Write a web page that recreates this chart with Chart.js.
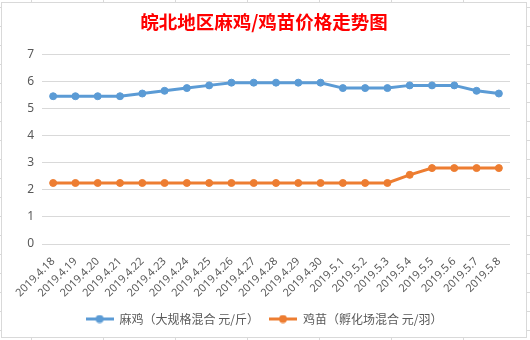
<!DOCTYPE html>
<html>
<head>
<meta charset="utf-8">
<script src="https://cdn.jsdelivr.net/npm/chart.js@4"></script>
<style>
  body {
    margin: 0;
    width: 530px;
    height: 340px;
    overflow: hidden;
    background-color: #fff;
    background-image:
      repeating-linear-gradient(to right, transparent 0 31px, #d9d9d9 31px 32px, transparent 32px 72px),
      repeating-linear-gradient(to bottom, transparent 0 7px, #d9d9d9 7px 8px, transparent 8px 19px);
  }
  #box {
    position: absolute;
    left: 1px;
    top: 2px;
    width: 524px;
    height: 334px;
    border: 1px solid #d9d9d9;
    background: #fff;
  }
</style>
</head>
<body>
<div id="box"><canvas id="priceChart" width="524" height="334"></canvas></div>
<script>
let labels = [
  "2019.4.18", "2019.4.19", "2019.4.20", "2019.4.21", "2019.4.22", "2019.4.23", "2019.4.24",
  "2019.4.25", "2019.4.26", "2019.4.27", "2019.4.28", "2019.4.29", "2019.4.30", "2019.5.1",
  "2019.5.2", "2019.5.3", "2019.5.4", "2019.5.5", "2019.5.6", "2019.5.7", "2019.5.8",
];
let maji = [5.45, 5.45, 5.45, 5.45, 5.55, 5.65, 5.75, 5.85, 5.95, 5.95, 5.95, 5.95, 5.95, 5.75, 5.75, 5.75, 5.85, 5.85, 5.85, 5.65, 5.55];
let jimiao = [2.25, 2.25, 2.25, 2.25, 2.25, 2.25, 2.25, 2.25, 2.25, 2.25, 2.25, 2.25, 2.25, 2.25, 2.25, 2.25, 2.55, 2.8, 2.8, 2.8, 2.8];
let seriesNames = ["麻鸡（大规格混合 元/斤）", "鸡苗（孵化场混合 元/羽）"];
let colors = ["#5b9bd5", "#ed7d31"];

// little line+dot icon for the legend, like excel draws it
let legendIcon = (color) => {
  let c = document.createElement("canvas");
  c.width = 28;
  c.height = 9;
  let g = c.getContext("2d");
  g.strokeStyle = color;
  g.lineWidth = 3;
  g.beginPath();
  g.moveTo(0, 4.5);
  g.lineTo(28, 4.5);
  g.stroke();
  g.fillStyle = color;
  g.beginPath();
  g.arc(14, 4.5, 4, 0, Math.PI * 2);
  g.fill();
  return c;
};
let icons = colors.map(legendIcon);

let makeSet = (name, data, color) => ({
  label: name,
  data: data,
  borderColor: color,
  backgroundColor: color,
  borderWidth: 3,
  pointRadius: 3.5,
  pointBorderWidth: 1,
  pointBackgroundColor: color,
  pointBorderColor: color,
  tension: 0,
});

let ctx = document.getElementById("priceChart").getContext("2d");
new Chart(ctx, {
  type: "line",
  data: {
    labels: labels,
    datasets: [
      makeSet(seriesNames[0], maji, colors[0]),
      makeSet(seriesNames[1], jimiao, colors[1]),
    ],
  },
  options: {
    responsive: false,
    animation: false,
    devicePixelRatio: 1,
    layout: { padding: { top: 0, left: 0, right: 0, bottom: 2 } },
    font: { family: "'Noto Sans', 'Noto Sans CJK SC', sans-serif" },
    plugins: {
      title: {
        display: true,
        text: "皖北地区麻鸡/鸡苗价格走势图",
        color: "#ff0000",
        font: { family: "'Noto Sans CJK SC', sans-serif", size: 18.5, weight: "bold" },
        padding: { top: 8, bottom: 21 },
      },
      legend: {
        position: "bottom",
        labels: {
          color: "#595959",
          font: { family: "'Noto Sans CJK SC', sans-serif", size: 12 },
          usePointStyle: true,
          pointStyleWidth: 28,
          padding: 10,
          generateLabels: (chart) => {
            let items = Chart.defaults.plugins.legend.labels.generateLabels(chart);
            items.forEach((item, i) => {
              item.pointStyle = icons[i];
            });
            return items;
          },
        },
      },
      tooltip: { enabled: false },
    },
    scales: {
      x: {
        offset: true,
        grid: { display: false },
        border: { display: false },
        ticks: {
          color: "#595959",
          font: { size: 11 },
          minRotation: 45,
          maxRotation: 45,
          autoSkip: false,
          padding: 3,
        },
        afterFit: (scale) => {
          scale.height = 59;
        },
      },
      y: {
        min: 0,
        max: 7,
        grid: { color: "#d9d9d9", drawTicks: false },
        border: { display: false },
        ticks: {
          stepSize: 1,
          color: "#595959",
          font: { size: 12 },
          padding: 8,
        },
        afterFit: (scale) => {
          scale.width = 40;
        },
      },
      // empty strip on the right so the plot stops short of the frame
      right: {
        position: "right",
        display: true,
        grid: { display: false },
        border: { display: false },
        ticks: { display: false },
        afterFit: (scale) => {
          scale.width = 16;
        },
      },
    },
  },
});
</script>
</body>
</html>
